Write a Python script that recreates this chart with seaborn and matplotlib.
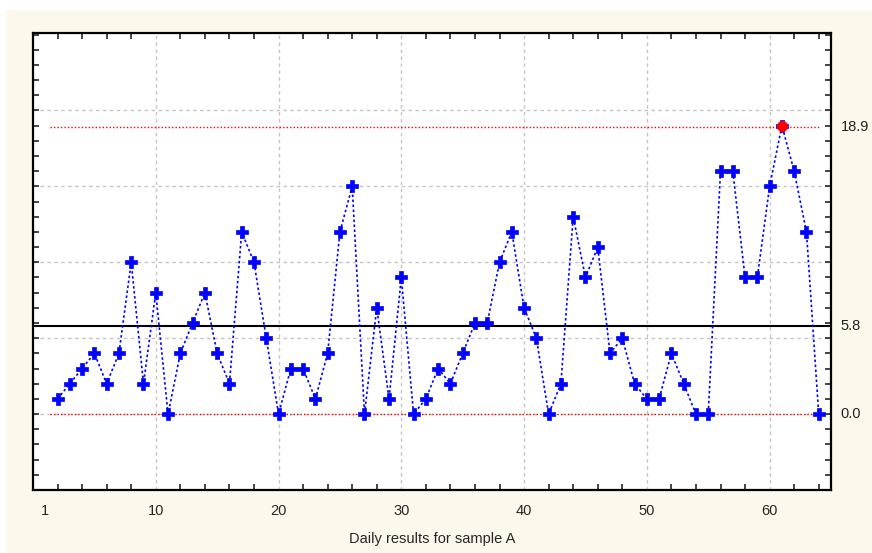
import numpy as np
import pandas as pd
import matplotlib
matplotlib.use("Agg")
import matplotlib.pyplot as plt
import seaborn as sns
from matplotlib.patches import Rectangle
from matplotlib.ticker import MultipleLocator, FixedLocator

# daily observations (x = observation position on the axis)
day = list(range(2, 65))
value = [1, 2, 3, 4, 2, 4, 10, 2, 8, 0, 4, 6, 8, 4, 2, 12,
         10, 5, 0, 3, 3, 1, 4, 12, 15, 0, 7, 1, 9, 0, 1, 3, 2,
         4, 6, 6, 10, 12, 7, 5, 0, 2, 13, 9, 11, 4, 5, 2, 1,
         1, 4, 2, 0, 0, 16, 16, 9, 9, 15, 19, 16, 12, 0]
center_line = 5.8
upper_limit = 18.9
lower_limit = 0.0
out_day = [61]
out_value = [19]
x_ticks = [1, 10, 20, 30, 40, 50, 60]
x_label = "Daily results for sample A"

df = pd.DataFrame({"day": day, "value": value})
out_df = pd.DataFrame({"day": out_day, "value": out_value})

sns.set_style("white")
plt.rcParams["font.family"] = ["Liberation Sans", "DejaVu Sans"]

fig = plt.figure(figsize=(8.72, 5.53), dpi=100)
fig.patch.set_facecolor("white")
fig.patches.append(Rectangle((6 / 872, 0), 1, 1 - 10 / 553, transform=fig.transFigure,
                             facecolor="#fdf8ec", edgecolor="none", zorder=-10))
ax = fig.add_axes([33 / 872, 1 - 490 / 553, (831 - 33) / 872, (490 - 33) / 553])
ax.set_facecolor("white")

# grid
for gx in range(10, 61, 10):
    ax.axvline(gx, color="#c4c4c4", lw=1, ls=(0, (2.5, 2.5)), zorder=0)
for gy in range(0, 21, 5):
    ax.axhline(gy, color="#c4c4c4", lw=1, ls=(0, (2.5, 2.5)), zorder=0)

# control lines
ax.plot([1.4, 64], [upper_limit, upper_limit], color="red", lw=1, ls=(0, (1, 1.5)), zorder=1)
ax.plot([1.4, 64], [lower_limit, lower_limit], color="red", lw=1, ls=(0, (1, 1.5)), zorder=1)
ax.axhline(center_line, color="black", lw=1.5, zorder=1)

sns.lineplot(data=df, x="day", y="value", ax=ax, color="blue", lw=1.2,
             linestyle=(0, (1.5, 1.5)), marker="P", markersize=9,
             markerfacecolor="blue", markeredgecolor="blue", markeredgewidth=0.5,
             zorder=3)
sns.scatterplot(data=out_df, x="day", y="value", ax=ax, color="red", s=55,
                edgecolor="red", zorder=4)

ax.set_xlim(0, 65)
ax.set_ylim(-5, 25.1)

ax.xaxis.set_major_locator(FixedLocator(x_ticks))
ax.set_xticklabels([str(t) for t in x_ticks], fontsize=10.5)
ax.tick_params(axis="x", which="major", length=0, pad=10)
ax.xaxis.set_minor_locator(MultipleLocator(2))
ax.yaxis.set_major_locator(MultipleLocator(1))
ax.set_yticklabels([])
ax.tick_params(axis="x", which="minor", direction="in", length=4, width=1.2,
               top=True, bottom=True)
ax.tick_params(axis="y", which="major", direction="in", length=4, width=1.2,
               left=True, right=True)

for lab in [upper_limit, center_line, lower_limit]:
    ax.text(1.012, lab, f"{lab:.1f}", transform=ax.get_yaxis_transform(),
            va="center", ha="left", fontsize=10.5, color="#222222", clip_on=False)

ax.set_xlabel(x_label, fontsize=10.5, labelpad=10)
ax.set_ylabel("")
for side, sp in ax.spines.items():
    sp.set_visible(True)
    sp.set_color("black")
    sp.set_linewidth(1.6)

fig.savefig("out.png", dpi=100, facecolor=fig.get_facecolor())
